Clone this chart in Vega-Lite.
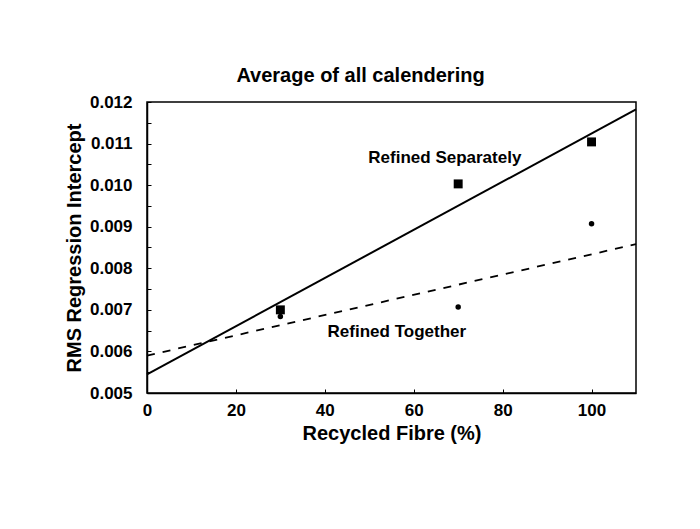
{
  "$schema": "https://vega.github.io/schema/vega-lite/v6.json",
  "autosize": "none",
  "padding": {"left": 147, "top": 102, "right": 64, "bottom": 136},
  "width": 489,
  "height": 291,
  "background": "white",
  "config": {
    "font": "Liberation Sans",
    "view": {"stroke": "black", "strokeWidth": 1.5},
    "axis": {
      "grid": false,
      "domainColor": "black",
      "domainWidth": 1.5,
      "tickColor": "black",
      "tickSize": -4,
      "tickWidth": 1,
      "labelColor": "black",
      "labelFont": "Liberation Sans",
      "labelFontWeight": "bold",
      "labelFontSize": 17,
      "titleColor": "black",
      "titleFont": "Liberation Sans",
      "titleFontWeight": "bold",
      "titleFontSize": 20
    }
  },
  "title": {
    "text": "Average of all calendering",
    "font": "Liberation Sans",
    "fontSize": 20,
    "fontWeight": "bold",
    "color": "black",
    "anchor": "middle",
    "dx": -31,
    "offset": 7
  },
  "datasets": {
    "points": [
      {"series": "Refined Separately", "fibre": 30, "rms": 0.0070},
      {"series": "Refined Separately", "fibre": 70, "rms": 0.01003},
      {"series": "Refined Separately", "fibre": 100, "rms": 0.01104},
      {"series": "Refined Together", "fibre": 30, "rms": 0.00684},
      {"series": "Refined Together", "fibre": 70, "rms": 0.00707},
      {"series": "Refined Together", "fibre": 100, "rms": 0.00907}
    ],
    "fits": [
      {"series": "Refined Separately", "fibre": 0, "rms": 0.00545},
      {"series": "Refined Separately", "fibre": 110, "rms": 0.01182},
      {"series": "Refined Together", "fibre": 0, "rms": 0.0059},
      {"series": "Refined Together", "fibre": 110, "rms": 0.00858}
    ],
    "labels": [
      {"label": "Refined Separately", "fibre": 67.0, "rms": 0.01065},
      {"label": "Refined Together", "fibre": 56.2, "rms": 0.00647}
    ]
  },
  "encoding": {
    "x": {
      "field": "fibre",
      "type": "quantitative",
      "scale": {"domain": [0, 110], "nice": false, "zero": false},
      "axis": {
        "title": "Recycled Fibre (%)",
        "values": [0, 20, 40, 60, 80, 100],
        "labelPadding": 13,
        "titlePadding": 5,
        "labelFlush": false
      }
    },
    "y": {
      "field": "rms",
      "type": "quantitative",
      "scale": {"domain": [0.005, 0.012], "nice": false, "zero": false},
      "axis": {
        "title": "RMS Regression Intercept",
        "values": [0.005, 0.0055, 0.006, 0.0065, 0.007, 0.0075, 0.008, 0.0085, 0.009, 0.0095, 0.01, 0.0105, 0.011, 0.0115, 0.012],
        "labelExpr": "round(datum.value * 10000) % 10 == 0 ? format(datum.value, '.3f') : ''",
        "labelPadding": 19,
        "titlePadding": 5,
        "labelFlush": false
      }
    }
  },
  "layer": [
    {
      "data": {"name": "fits"},
      "transform": [{"filter": "datum.series == 'Refined Separately'"}],
      "mark": {"type": "line", "color": "black", "strokeWidth": 2},
      "encoding": {}
    },
    {
      "data": {"name": "fits"},
      "transform": [{"filter": "datum.series == 'Refined Together'"}],
      "mark": {"type": "line", "color": "black", "strokeWidth": 1.8, "strokeDash": [8, 8]},
      "encoding": {}
    },
    {
      "data": {"name": "points"},
      "transform": [{"filter": "datum.series == 'Refined Together'"}],
      "mark": {"type": "point", "shape": "circle", "filled": true, "color": "black", "size": 30, "opacity": 1}
    },
    {
      "data": {"name": "points"},
      "transform": [{"filter": "datum.series == 'Refined Separately'"}],
      "mark": {"type": "point", "shape": "square", "filled": true, "color": "black", "size": 80, "opacity": 1}
    },
    {
      "data": {"name": "labels"},
      "mark": {"type": "text", "font": "Liberation Sans", "fontWeight": "bold", "fontSize": 17, "color": "black", "align": "center", "baseline": "middle"},
      "encoding": {"text": {"field": "label"}}
    }
  ]
}
